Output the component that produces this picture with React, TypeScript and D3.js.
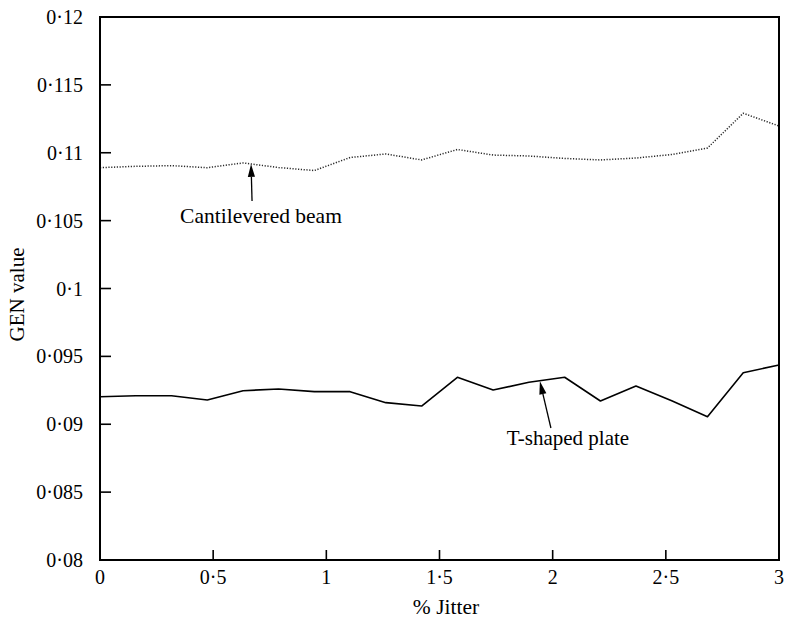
import React from "react";
import * as d3 from "d3";

// % jitter sample positions (20 evenly spaced runs from 0 to 3)
const jitter: number[] = [
  0, 0.158, 0.316, 0.474, 0.632, 0.789, 0.947, 1.105, 1.263, 1.421,
  1.579, 1.737, 1.895, 2.053, 2.211, 2.368, 2.526, 2.684, 2.842, 3,
];

// GEN value for the cantilevered beam model
const beamGen: number[] = [
  0.1089, 0.109, 0.10905, 0.1089, 0.10925, 0.10891, 0.10869, 0.10965, 0.10991, 0.10947,
  0.11024, 0.10983, 0.10976, 0.10958, 0.10947, 0.10961, 0.10987, 0.11035, 0.11291, 0.11197,
];

// GEN value for the T-shaped plate model
const plateGen: number[] = [
  0.09203, 0.0921, 0.0921, 0.09179, 0.09247, 0.0926, 0.0924, 0.0924, 0.09159, 0.09134,
  0.09346, 0.09252, 0.09309, 0.09346, 0.09171, 0.09282, 0.09173, 0.09056, 0.0938, 0.09436,
];

const xTicks: number[] = [0, 0.5, 1, 1.5, 2, 2.5, 3];
const yTicks: number[] = [0.08, 0.085, 0.09, 0.095, 0.1, 0.105, 0.11, 0.115, 0.12];

const W = 787;
const H = 622;
const margin = { left: 100, right: 8, top: 17, bottom: 62 };
const FONT = "'Liberation Serif', 'Times New Roman', serif";

// Tick labels use a raised decimal point, e.g. 0·115
const fmt = (v: number) => {
  const s = d3.format("")(+v.toFixed(4));
  return s.replace(".", "\u00B7");
};

export default function App() {
  const x = d3.scaleLinear().domain([0, 3]).range([margin.left, W - margin.right]);
  const y = d3.scaleLinear().domain([0.08, 0.12]).range([H - margin.bottom, margin.top]);
  const x0 = x.range()[0];
  const x1 = x.range()[1];
  const y0 = y.range()[0];
  const y1 = y.range()[1];

  const line = d3
    .line<number>()
    .x((_, i) => x(jitter[i]))
    .y((d) => y(d));

  // Arrow annotations pointing at a sample of each curve
  const beamIdx = 4;
  const plateIdx = 12;
  const arrow = (tx: number, ty: number, fx: number, fy: number) => {
    const ang = Math.atan2(ty - fy, tx - fx);
    const len = 13;
    const half = 3.6;
    const bx = tx - len * Math.cos(ang);
    const by = ty - len * Math.sin(ang);
    const px = -Math.sin(ang) * half;
    const py = Math.cos(ang) * half;
    return (
      <g>
        <line x1={fx} y1={fy} x2={bx} y2={by} stroke="#000" strokeWidth={1.3} />
        <path d={`M${tx},${ty}L${bx + px},${by + py}L${bx - px},${by - py}Z`} fill="#000" />
      </g>
    );
  };

  const bTipX = x(jitter[beamIdx]) + 8;
  const bTipY = y(beamGen[beamIdx]) + 1;
  const pTipX = x(jitter[plateIdx]) + 11;
  const pTipY = y(plateGen[plateIdx]) - 1;

  return (
    <svg
      width={W}
      height={H}
      style={{ position: "absolute", left: 0, top: 0, background: "#fff" }}
      fontFamily={FONT}
    >
      <rect x={0} y={0} width={W} height={H} fill="#fff" />

      {/* series */}
      <path
        d={line(beamGen) || ""}
        fill="none"
        stroke="#2a2a2a"
        strokeWidth={1.5}
        strokeDasharray="1.2,1.6"
      />
      <path d={line(plateGen) || ""} fill="none" stroke="#000" strokeWidth={1.6} strokeLinejoin="round" />

      {/* annotations */}
      {arrow(bTipX, bTipY, bTipX + 1, 201)}
      <text x={261} y={223} fontSize={21.5} textAnchor="middle" fill="#000">
        Cantilevered beam
      </text>
      {arrow(pTipX, pTipY, pTipX + 11, 428)}
      <text x={568} y={445} fontSize={21} textAnchor="middle" fill="#000">
        T-shaped plate
      </text>

      {/* inward ticks */}
      {xTicks.map((t) => (
        <line key={"xt" + t} x1={x(t)} x2={x(t)} y1={y0} y2={y0 - 10} stroke="#000" strokeWidth={1.6} />
      ))}
      {yTicks.map((t) => (
        <line key={"yt" + t} x1={x0} x2={x0 + 11} y1={y(t)} y2={y(t)} stroke="#000" strokeWidth={1.6} />
      ))}

      {/* frame */}
      <rect x={x0} y={y1} width={x1 - x0} height={y0 - y1} fill="none" stroke="#000" strokeWidth={2} />

      {/* tick labels */}
      {xTicks.map((t) => (
        <text key={"xl" + t} x={x(t)} y={y0 + 24} fontSize={20} textAnchor="middle" fill="#000">
          {fmt(t)}
        </text>
      ))}
      {yTicks.map((t) => (
        <text key={"yl" + t} x={x0 - 17} y={y(t) + 7} fontSize={20} textAnchor="end" fill="#000">
          {fmt(t)}
        </text>
      ))}

      {/* axis titles */}
      <text x={446} y={614} fontSize={21.5} textAnchor="middle" fill="#000">
        % Jitter
      </text>
      <text
        transform={`translate(24,${(y0 + y1) / 2 + 6}) rotate(-90)`}
        fontSize={21}
        textAnchor="middle"
        fill="#000"
      >
        GEN value
      </text>
    </svg>
  );
}
